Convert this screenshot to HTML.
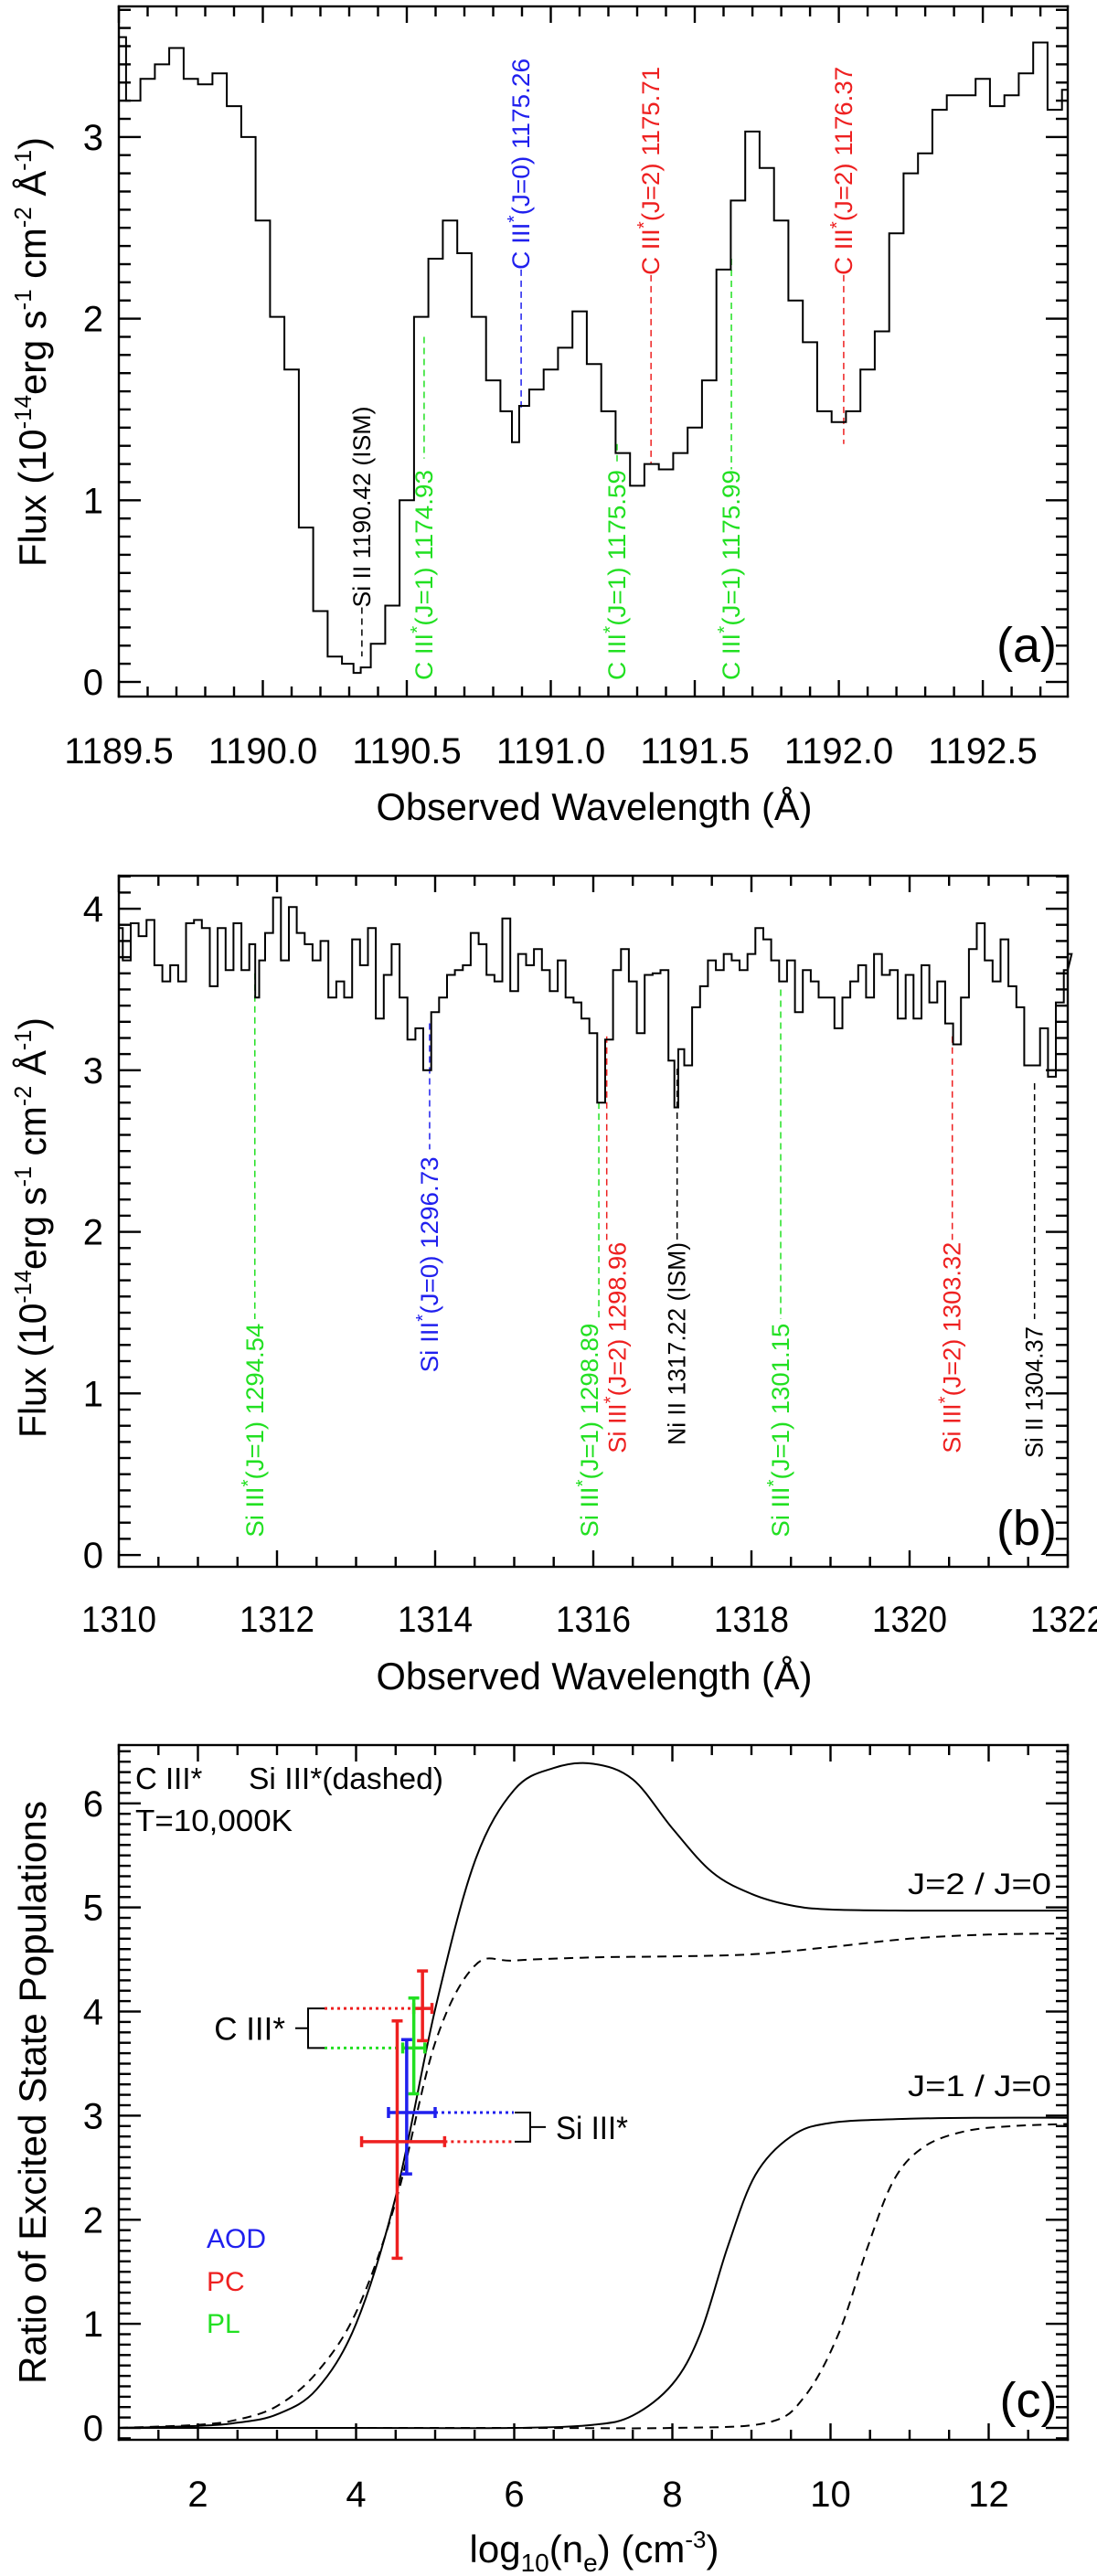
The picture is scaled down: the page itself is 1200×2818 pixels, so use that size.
<!DOCTYPE html>
<html><head><meta charset="utf-8">
<style>
html,body{margin:0;padding:0;background:#fff;}
svg{display:block;font-family:"Liberation Sans",Arial,sans-serif;}
</style></head>
<body>
<svg id="fig" width="1200" height="2818" viewBox="0 0 1200 2818" xmlns="http://www.w3.org/2000/svg"></svg>
<script>
// ---------- Panel (a) data ----------
const aWave = [1189.50,1189.55,1189.60,1189.65,1189.70,1189.75,1189.80,1189.85,1189.90,1189.95,1190.00,1190.05,1190.10,1190.15,1190.20,1190.25,1190.30,1190.33,1190.35,1190.40,1190.45,1190.50,1190.55,1190.60,1190.65,1190.70,1190.75,1190.80,1190.85,1190.88,1190.90,1190.95,1191.00,1191.05,1191.10,1191.15,1191.20,1191.25,1191.30,1191.35,1191.40,1191.45,1191.50,1191.55,1191.60,1191.65,1191.70,1191.75,1191.80,1191.85,1191.90,1191.95,1192.00,1192.05,1192.10,1192.15,1192.20,1192.25,1192.30,1192.35,1192.40,1192.45,1192.50,1192.55,1192.60,1192.65,1192.70,1192.75,1192.80];
const aFlux = [3.55,3.20,3.32,3.40,3.49,3.32,3.29,3.35,3.17,3.00,2.54,2.01,1.72,0.85,0.39,0.14,0.10,0.05,0.08,0.21,0.42,1.00,2.01,2.33,2.54,2.36,2.01,1.66,1.49,1.32,1.52,1.61,1.72,1.84,2.04,1.75,1.49,1.26,1.08,1.20,1.17,1.26,1.40,1.66,2.27,2.65,3.03,2.83,2.54,2.10,1.87,1.49,1.43,1.49,1.72,1.93,2.47,2.80,2.91,3.15,3.23,3.23,3.32,3.17,3.23,3.35,3.52,3.15,3.26];
const aXTicks = [1189.5,1190.0,1190.5,1191.0,1191.5,1192.0,1192.5];
const aXTickLabels = ['1189.5','1190.0','1190.5','1191.0','1191.5','1192.0','1192.5'];
const aYTicks = [0,1,2,3];
const aLineWave = [1190.344,1190.560,1190.897,1191.230,1191.348,1191.627,1192.017];
const aLineIon = ['Si II','C III','C III','C III','C III','C III','C III'];
const aLineStar = [false,true,true,true,true,true,true];
const aLineRest = [' 1190.42 (ISM)','(J=1) 1174.93','(J=0) 1175.26','(J=1) 1175.59','(J=2) 1175.71','(J=1) 1175.99','(J=2) 1176.37'];
const aLineColor = ['#000','#22e022','#2020ee','#22e022','#ee2020','#22e022','#ee2020'];
const aDashTop = [0.41,1.90,2.27,1.31,2.24,2.33,2.24];
const aDashBot = [0.14,1.23,1.49,1.20,1.20,1.17,1.31];
const aTextBot = [0.41,0.01,2.27,0.01,2.24,0.01,2.24];
const aTextLen = [220,230,231,230,228,230,228];
const aTextShift = [0,0,0,0,0,0,0];

// ---------- Panel (b) data ----------
const bWave = [1310.0,1310.1,1310.2,1310.3,1310.4,1310.5,1310.6,1310.7,1310.8,1310.9,1311.0,1311.1,1311.2,1311.3,1311.4,1311.5,1311.6,1311.7,1311.75,1311.8,1311.9,1312.0,1312.1,1312.2,1312.3,1312.4,1312.5,1312.6,1312.7,1312.8,1312.9,1313.0,1313.1,1313.2,1313.3,1313.4,1313.5,1313.6,1313.7,1313.8,1313.9,1314.0,1314.1,1314.2,1314.3,1314.4,1314.5,1314.6,1314.7,1314.8,1314.9,1315.0,1315.1,1315.2,1315.3,1315.4,1315.5,1315.6,1315.7,1315.8,1315.9,1316.0,1316.1,1316.2,1316.3,1316.4,1316.5,1316.6,1316.7,1316.8,1316.9,1317.0,1317.05,1317.1,1317.2,1317.3,1317.4,1317.5,1317.6,1317.7,1317.8,1317.9,1318.0,1318.1,1318.2,1318.3,1318.4,1318.5,1318.6,1318.7,1318.8,1318.9,1319.0,1319.1,1319.2,1319.3,1319.4,1319.5,1319.6,1319.7,1319.8,1319.9,1320.0,1320.1,1320.2,1320.3,1320.4,1320.5,1320.6,1320.7,1320.8,1320.9,1321.0,1321.1,1321.2,1321.3,1321.4,1321.5,1321.6,1321.7,1321.8,1321.9,1322.0,1322.1];
const bFlux = [3.88,3.68,3.91,3.83,3.93,3.65,3.55,3.65,3.55,3.91,3.93,3.88,3.52,3.88,3.62,3.91,3.62,3.78,3.45,3.68,3.85,4.07,3.68,4.01,3.85,3.78,3.68,3.80,3.45,3.55,3.45,3.81,3.65,3.88,3.32,3.59,3.78,3.45,3.19,3.26,3.00,3.36,3.45,3.59,3.62,3.65,3.85,3.78,3.59,3.55,3.94,3.49,3.72,3.65,3.75,3.62,3.49,3.68,3.45,3.42,3.32,3.23,2.80,3.19,3.62,3.75,3.55,3.23,3.59,3.60,3.62,3.06,2.77,3.13,3.03,3.39,3.52,3.68,3.62,3.72,3.68,3.62,3.72,3.88,3.81,3.68,3.55,3.68,3.36,3.62,3.55,3.45,3.45,3.26,3.45,3.55,3.65,3.45,3.72,3.59,3.62,3.32,3.59,3.32,3.65,3.42,3.55,3.29,3.16,3.45,3.75,3.91,3.68,3.55,3.81,3.52,3.39,3.03,3.03,3.26,2.96,3.42,3.62,3.72];
const bXTicks = [1310,1312,1314,1316,1318,1320,1322];
const bXTickLabels = ['1310','1312','1314','1316','1318','1320','1322'];
const bYTicks = [0,1,2,3,4];
const bLineWave = [1311.72,1313.93,1316.07,1316.17,1317.06,1318.37,1320.54,1321.58];
const bLineIon = ['Si III','Si III','Si III','Si III','Ni II','Si III','Si III','Si II'];
const bLineStar = [true,true,true,true,false,true,true,false];
const bLineRest = ['(J=1) 1294.54','(J=0) 1296.73','(J=1) 1298.89','(J=2) 1298.96',' 1317.22 (ISM)','(J=1) 1301.15','(J=2) 1303.32',' 1304.37'];
const bLineColor = ['#22e022','#2020ee','#22e022','#ee2020','#000','#22e022','#ee2020','#000'];
const bDashTop = [3.60,3.29,2.80,3.21,3.01,3.50,3.21,2.92];
const bDashBot = [1.46,2.51,1.46,1.95,1.95,1.46,1.95,1.46];
const bTextBot = [0.11,1.13,0.11,0.63,0.68,0.11,0.63,0.60];
const bTextLen = [234,236,234,231,222,234,231,144];
const bTextShift = [0,0,-10,12,0,0,0,0];

// ---------- Panel (c) data ----------
const cJ2SolidX = [1,2,2.5,3,3.5,4,4.5,5,5.5,6,6.5,7,7.5,8,8.5,9,9.5,10,11,12,13];
const cJ2SolidY = [0,0.02,0.05,0.13,0.37,1.0,2.22,4.02,5.44,6.13,6.34,6.38,6.23,5.76,5.34,5.13,5.02,4.98,4.97,4.97,4.97];
const cJ2DashX = [1,2,2.5,3,3.5,4,4.5,5,5.5,6,7,8,9,10,11,12,13];
const cJ2DashY = [0,0.03,0.08,0.21,0.53,1.11,2.17,3.70,4.44,4.49,4.52,4.53,4.55,4.62,4.70,4.74,4.75];
const cJ1SolidX = [1,4,6,7,7.5,8,8.35,8.7,9.05,9.5,10,11,12,13];
const cJ1SolidY = [0,0,0,0.03,0.12,0.42,0.90,1.74,2.43,2.80,2.93,2.97,2.98,2.98];
const cJ1DashX = [1,6,8,9.2,9.67,10.1,10.47,10.8,11.18,11.7,12.3,13];
const cJ1DashY = [0,0,0,0.05,0.30,0.90,1.74,2.38,2.70,2.85,2.90,2.92];
const cXTicks = [2,4,6,8,10,12];
const cYTicks = [0,1,2,3,4,5,6];
const ptName = ['cIII-pc','cIII-pl','siIII-aod','siIII-pc'];
const ptX = [4.84,4.73,4.64,4.52];
const ptY = [4.03,3.65,3.03,2.75];
const ptXLo = [4.73,4.59,4.41,4.07];
const ptXHi = [4.96,4.87,5.00,5.12];
const ptYLo = [3.72,3.21,2.44,1.63];
const ptYHi = [4.39,4.13,3.73,3.91];
const ptColor = ['#ee2020','#22e022','#2020ee','#ee2020'];

const NS = 'http://www.w3.org/2000/svg';
const svg = document.getElementById('fig');
function el(tag, parent){ const e = document.createElementNS(NS, tag); parent.appendChild(e); return e; }
function set(e, k, v){ e.setAttribute(k, v); }
function grp(name){
  const g = el('g', svg);
  
  
  return g;
}
function seg(parent, x1,y1,x2,y2, color, w, dash){
  const l = el('line', parent);
  set(l,'x1',x1); set(l,'y1',y1); set(l,'x2',x2); set(l,'y2',y2);
  set(l,'stroke',color); set(l,'stroke-width',w);
  if(dash) set(l,'stroke-dasharray',dash);
  return l;
}
function box(parent, x, y, w, h){
  const r = el('rect', parent);
  set(r,'x',x.toFixed(1)); set(r,'y',y.toFixed(1)); set(r,'width',w.toFixed(1)); set(r,'height',h.toFixed(1));
  set(r,'fill','#000');
  return r;
}
function txt(parent, x, y, str, size, anchor){
  const t = el('text', parent);
  set(t,'x',x); set(t,'y',y); set(t,'font-size',size);
  if(anchor) set(t,'text-anchor',anchor);
  t.textContent = str;
  return t;
}

const panels = {
  a:{x0:130,x1:1168,y0:7,y1:762,xmin:1189.5,xmax:1192.795,ymin:-0.0805,ymax:3.719},
  b:{x0:130,x1:1168,y0:958,y1:1714,xmin:1310,xmax:1322,ymin:-0.073,ymax:4.204},
  c:{x0:130,x1:1168,y0:1909,y1:2669,xmin:1,xmax:13,ymin:-0.114,ymax:6.56}
};
function sx(p,v){ return p.x0 + (v-p.xmin)/(p.xmax-p.xmin)*(p.x1-p.x0); }
function sy(p,v){ return p.y1 - (v-p.ymin)/(p.ymax-p.ymin)*(p.y1-p.y0); }

function drawFrame(p, name, xMajor, xMinor, yMajor, yMinor){
  const g = grp(name);
  const W = 2.4;
  box(g, p.x0-W/2, p.y0-W/2, p.x1-p.x0+W, W);
  box(g, p.x0-W/2, p.y1-W/2, p.x1-p.x0+W, W);
  box(g, p.x0-W/2, p.y0-W/2, W, p.y1-p.y0+W);
  box(g, p.x1-W/2, p.y0-W/2, W, p.y1-p.y0+W);
  const nx0 = Math.ceil(p.xmin/xMinor - 1e-6), nx1 = Math.floor(p.xmax/xMinor + 1e-6);
  for(let n=nx0; n<=nx1; n++){
    const v = n*xMinor;
    const isMaj = Math.abs(v/xMajor - Math.round(v/xMajor)) < 1e-4;
    const L = isMaj?18:11, x = sx(p,v);
    box(g, x-1.2, p.y1-L, 2.4, L);
    box(g, x-1.2, p.y0, 2.4, L);
  }
  const ny0 = Math.ceil(p.ymin/yMinor - 1e-6), ny1 = Math.floor(p.ymax/yMinor + 1e-6);
  for(let n=ny0; n<=ny1; n++){
    const v = n*yMinor;
    const isMaj = Math.abs(v/yMajor - Math.round(v/yMajor)) < 1e-4;
    const L = isMaj?24:13, y = sy(p,v);
    box(g, p.x0, y-1.2, L, 2.4);
    box(g, p.x1-L, y-1.2, L, 2.4);
  }
  return g;
}
function stepPath(p, xs, ys){
  let d = '';
  for(let i=0;i<xs.length;i++){
    const left = i===0 ? xs[0]-(xs[1]-xs[0])/2 : (xs[i-1]+xs[i])/2;
    const right = i===xs.length-1 ? xs[i]+(xs[i]-xs[i-1])/2 : (xs[i]+xs[i+1])/2;
    const l = Math.max(sx(p,left),p.x0), r = Math.min(sx(p,right),p.x1), y = sy(p,ys[i]);
    d += (i===0?'M':'L')+l.toFixed(1)+','+y.toFixed(1)+' L'+r.toFixed(1)+','+y.toFixed(1)+' ';
  }
  return d;
}
function smoothPath(p, xs, ys){
  const P = xs.map((x,i)=>[sx(p,x), sy(p,ys[i])]);
  let d = 'M'+P[0][0].toFixed(1)+','+P[0][1].toFixed(1);
  for(let i=0;i<P.length-1;i++){
    const p0=P[Math.max(i-1,0)], p1=P[i], p2=P[i+1], p3=P[Math.min(i+2,P.length-1)];
    const c1=[p1[0]+(p2[0]-p0[0])/6, p1[1]+(p2[1]-p0[1])/6];
    const c2=[p2[0]-(p3[0]-p1[0])/6, p2[1]-(p3[1]-p1[1])/6];
    d += ' C'+c1[0].toFixed(1)+','+c1[1].toFixed(1)+' '+c2[0].toFixed(1)+','+c2[1].toFixed(1)+' '+p2[0].toFixed(1)+','+p2[1].toFixed(1);
  }
  return d;
}
function rotLabel(parent, x, yBottom, ion, star, rest, color, len, size){
  const t = el('text', parent);
  set(t,'transform','translate('+(x+9)+','+yBottom+') rotate(-90)');
  set(t,'font-size',size); set(t,'fill',color);
  set(t,'textLength',len); set(t,'lengthAdjust','spacingAndGlyphs');
  const a = el('tspan', t); a.textContent = ion;
  if(star){ const s = el('tspan', t); set(s,'dy',-10); set(s,'font-size',size*0.75); s.textContent='*';
            const r = el('tspan', t); set(r,'dy',10); r.textContent = rest; }
  else { const r = el('tspan', t); r.textContent = rest; }
  return t;
}
function yTitle(name, cx, cy, len, parts){
  const t = el('text', svg);
  
  
  set(t,'transform','translate('+cx+','+cy+') rotate(-90)');
  set(t,'font-size',42); set(t,'text-anchor','middle');
  set(t,'textLength',len); set(t,'lengthAdjust','spacingAndGlyphs');
  parts.forEach(pt=>{ const s = el('tspan', t); if(pt[1]) set(s,'dy',pt[1]); if(pt[2]) set(s,'font-size',pt[2]); s.textContent = pt[0]; });
  return t;
}
const fluxParts = [['Flux (10'],['-14',-16,26],['erg s',16],['-1',-16,26],[' cm',16],['-2',-16,26],[' Å',16],['-1',-16,26],[')',16]];

// ===== Panel a =====
(function(){
  const p = panels.a;
  drawFrame(p,'panel-a-frame',0.5,0.1,1,0.1);
  const ticks = grp('panel-a-tick-labels');
  aXTicks.forEach((v,i)=>{ txt(ticks, sx(p,v), 835, aXTickLabels[i], 40, 'middle'); });
  aYTicks.forEach(v=>{ txt(ticks, 113, sy(p,v)+14, String(v), 40, 'end'); });
  const marks = grp('panel-a-line-markers');
  aLineWave.forEach((w,i)=>{
    const x = sx(p,w);
    seg(marks, x, sy(p,aDashTop[i]), x, sy(p,aDashBot[i]), aLineColor[i], 1.5, '7,5');
    rotLabel(marks, x+aTextShift[i], sy(p,aTextBot[i]), aLineIon[i], aLineStar[i], aLineRest[i], aLineColor[i], aTextLen[i], 27);
  });
  const sp = el('path', svg);
  
  
  set(sp,'d',stepPath(p,aWave,aFlux)); set(sp,'fill','none'); set(sp,'stroke','#000'); set(sp,'stroke-width',2);
  const lab = txt(svg, 1123, 724, '(a)', 54, 'middle');
  
  
  const xt = txt(svg, 650, 897, 'Observed Wavelength (Å)', 42, 'middle');
  
  
  set(xt,'textLength',477); set(xt,'lengthAdjust','spacingAndGlyphs');
  yTitle('panel-a-y-axis-title', 50, 385, 470, fluxParts);
})();

// ===== Panel b =====
(function(){
  const p = panels.b;
  drawFrame(p,'panel-b-frame',2,0.5,1,0.1);
  const ticks = grp('panel-b-tick-labels');
  bXTicks.forEach((v,i)=>{ const t = txt(ticks, sx(p,v), 1785, bXTickLabels[i], 40, 'middle'); set(t,'textLength',82); set(t,'lengthAdjust','spacingAndGlyphs'); });
  bYTicks.forEach(v=>{ txt(ticks, 113, sy(p,v)+14, String(v), 40, 'end'); });
  const marks = grp('panel-b-line-markers');
  bLineWave.forEach((w,i)=>{
    const x = sx(p,w);
    seg(marks, x, sy(p,bDashTop[i]), x, sy(p,bDashBot[i]), bLineColor[i], 1.5, '7,5');
    rotLabel(marks, x+bTextShift[i], sy(p,bTextBot[i]), bLineIon[i], bLineStar[i], bLineRest[i], bLineColor[i], bTextLen[i], 27);
  });
  const sp = el('path', svg);
  
  
  set(sp,'d',stepPath(p,bWave,bFlux)); set(sp,'fill','none'); set(sp,'stroke','#000'); set(sp,'stroke-width',2);
  const lab = txt(svg, 1123, 1690, '(b)', 54, 'middle');
  
  
  const xt = txt(svg, 650, 1848, 'Observed Wavelength (Å)', 42, 'middle');
  
  
  set(xt,'textLength',477); set(xt,'lengthAdjust','spacingAndGlyphs');
  yTitle('panel-b-y-axis-title', 50, 1343, 460, fluxParts);
})();

// ===== Panel c =====
(function(){
  const p = panels.c;
  drawFrame(p,'panel-c-frame',2,0.5,1,0.1);
  const ticks = grp('panel-c-tick-labels');
  cXTicks.forEach(v=>{ txt(ticks, sx(p,v), 2742, String(v), 40, 'middle'); });
  cYTicks.forEach(v=>{ txt(ticks, 113, sy(p,v)+14, String(v), 40, 'end'); });
  const curves = [
    ['c-iii-j2-j0-curve',cJ2SolidX,cJ2SolidY,null],
    ['si-iii-j2-j0-curve',cJ2DashX,cJ2DashY,'10,7'],
    ['c-iii-j1-j0-curve',cJ1SolidX,cJ1SolidY,null],
    ['si-iii-j1-j0-curve',cJ1DashX,cJ1DashY,'10,7']
  ];
  curves.forEach(c=>{
    const pa = el('path', svg);
    
    
    set(pa,'d',smoothPath(p,c[1],c[2])); set(pa,'fill','none'); set(pa,'stroke','#000'); set(pa,'stroke-width',2);
    if(c[3]) set(pa,'stroke-dasharray',c[3]);
  });
  const br = grp('panel-c-brackets');
  const yC1 = sy(p,ptY[0]), yC2 = sy(p,ptY[1]), yS1 = sy(p,ptY[2]), yS2 = sy(p,ptY[3]);
  seg(br, 355, yC1, sx(p,ptXLo[0]), yC1, ptColor[0], 3, '3,4');
  seg(br, 355, yC2, sx(p,ptXLo[1]), yC2, ptColor[1], 3, '3,4');
  seg(br, sx(p,ptXHi[2]), yS1, 562, yS1, ptColor[2], 3, '3,4');
  seg(br, sx(p,ptXHi[3]), yS2, 562, yS2, ptColor[3], 3, '3,4');
  const b1 = el('path', br);
  set(b1,'d','M355,'+yC1+' H337 V'+yC2+' H355 M337,'+((yC1+yC2)/2)+' H323'); set(b1,'fill','none'); set(b1,'stroke','#000'); set(b1,'stroke-width',2);
  const b2 = el('path', br);
  set(b2,'d','M563,'+yS1+' H580 V'+yS2+' H563 M580,'+((yS1+yS2)/2)+' H597'); set(b2,'fill','none'); set(b2,'stroke','#000'); set(b2,'stroke-width',2);
  txt(br, 312, (yC1+yC2)/2+13, 'C III*', 35, 'end');
  const t2 = txt(br, 608, (yS1+yS2)/2+13, 'Si III*', 35, 'start');
  set(t2,'textLength',79); set(t2,'lengthAdjust','spacingAndGlyphs');
  ptX.forEach((v,i)=>{
    const g = el('g', svg);
    
    
    const x = sx(p,v), y = sy(p,ptY[i]);
    const xl = sx(p,ptXLo[i]), xh = sx(p,ptXHi[i]), yl = sy(p,ptYLo[i]), yh = sy(p,ptYHi[i]);
    const col = ptColor[i];
    seg(g, xl, y, xh, y, col, 3.5);
    seg(g, x, yl, x, yh, col, 3.5);
    seg(g, xl, y-6, xl, y+6, col, 3.5);
    seg(g, xh, y-6, xh, y+6, col, 3.5);
    seg(g, x-6, yl, x+6, yl, col, 3.5);
    seg(g, x-6, yh, x+6, yh, col, 3.5);
  });
  const ann = grp('panel-c-annotations');
  txt(ann, 148, 1957, 'C III*', 33);
  const sd = txt(ann, 272, 1957, 'Si III*(dashed)', 33); set(sd,'textLength',213); set(sd,'lengthAdjust','spacingAndGlyphs');
  const tt = txt(ann, 148, 2003, 'T=10,000K', 33); set(tt,'textLength',172); set(tt,'lengthAdjust','spacingAndGlyphs');
  const j2 = txt(ann, 993, 2072, 'J=2 / J=0', 32); set(j2,'textLength',157); set(j2,'lengthAdjust','spacingAndGlyphs');
  const j1 = txt(ann, 993, 2293, 'J=1 / J=0', 32); set(j1,'textLength',157); set(j1,'lengthAdjust','spacingAndGlyphs');
  const leg = grp('panel-c-legend');
  const l1 = txt(leg, 226, 2459, 'AOD', 30); set(l1,'fill','#2020ee');
  const l2 = txt(leg, 226, 2506, 'PC', 30); set(l2,'fill','#ee2020');
  const l3 = txt(leg, 226, 2552, 'PL', 30); set(l3,'fill','#22e022');
  const lab = txt(svg, 1125, 2644, '(c)', 54, 'middle');
  
  
  const xt = el('text', svg);
  
  
  set(xt,'x',650); set(xt,'y',2803); set(xt,'font-size',42); set(xt,'text-anchor','middle');
  [['log'],['10',10,28],['(n',-10],['e',10,28],[') (cm',-10],['-3',-16,26],[')',16]].forEach(pt=>{
    const s = el('tspan', xt); if(pt[1]) set(s,'dy',pt[1]); if(pt[2]) set(s,'font-size',pt[2]); s.textContent = pt[0];
  });
  yTitle('panel-c-y-axis-title', 50, 2289, 638, [['Ratio of Excited State Populations']]);
})();
</script>
</body></html>
